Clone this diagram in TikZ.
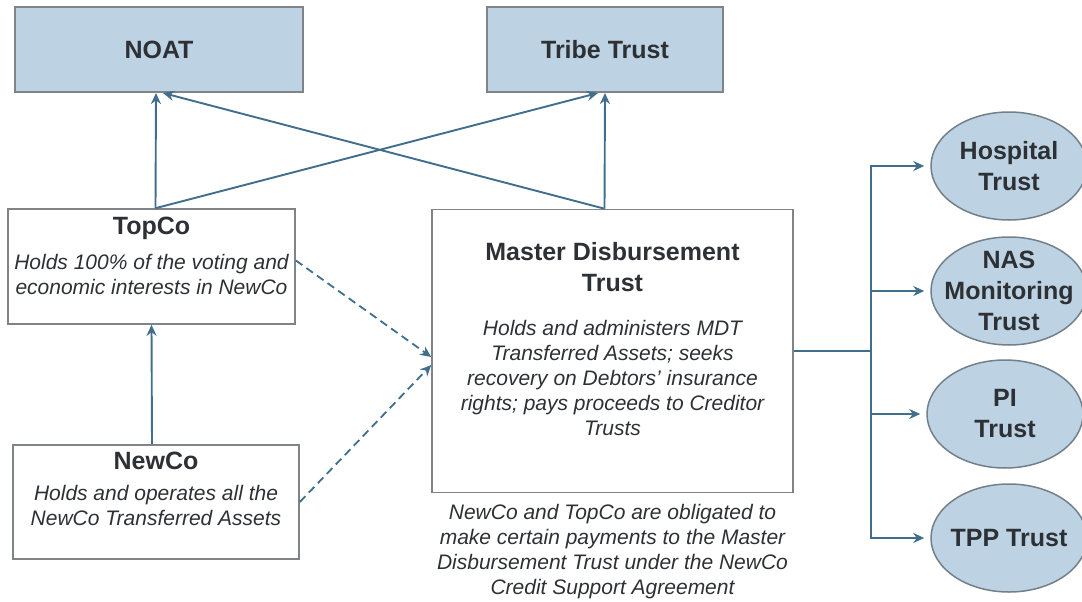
\documentclass[tikz,border=0pt]{standalone}
\usepackage{fontspec}
\setmainfont{Liberation Sans}
\usetikzlibrary{positioning,arrows.meta,shapes.geometric}

\definecolor{trustfill}{RGB}{189,211,227}
\definecolor{flow}{RGB}{64,110,140}
\definecolor{frame}{RGB}{128,132,136}
\definecolor{ink}{RGB}{45,48,52}

\begin{document}
\begin{tikzpicture}[
  x=1pt, y=-1pt,
  >={Stealth[length=11pt,width=10pt]},
  node distance=8pt,
  trust/.style={
    rectangle, draw=frame, fill=trustfill, line width=2pt,
    text=ink, font=\fontsize{25}{30}\selectfont\bfseries
  },
  entity/.style={rectangle, draw=frame, line width=1.6pt},
  heading/.style={align=center, inner sep=0pt, text=ink,
    font=\fontsize{25}{31}\selectfont\bfseries},
  note/.style={align=center, inner sep=0pt, text=ink,
    font=\fontsize{21}{25}\selectfont\itshape},
  ovaltext/.style={align=center, inner sep=0pt, text=ink,
    font=\fontsize{25}{31}\selectfont\bfseries},
  creditor/.style={ellipse, draw=frame!80!flow, fill=trustfill, line width=1.5pt,
    minimum width=156pt, minimum height=108pt, inner sep=0pt},
  arrow/.style={->, draw=flow, line width=1.9pt},
  owes/.style={->, draw=flow, line width=1.8pt, dash pattern=on 8pt off 5pt}
]
\useasboundingbox (0,0) rectangle (1082,602);

% top trusts
\node (noat) [trust, minimum width=288pt, minimum height=85pt] at (159,49.5) {NOAT};
\node (tribe) [trust, minimum width=236pt, minimum height=85pt] at (605,49.5) {Tribe Trust};

% companies
\node (topco) [entity, minimum width=287pt, minimum height=115pt] at (151.5,266.5) {};
\node (topcohead) [heading, below=9pt of topco.north] {TopCo};
\node (topconote) [note, below=14pt of topcohead]
  {Holds 100\% of the voting and\\economic interests in NewCo};

\node (newco) [entity, minimum width=286pt, minimum height=114pt] at (156,502) {};
\node (newcohead) [heading, below=8pt of newco.north] {NewCo};
\node (newconote) [note, below=15pt of newcohead]
  {Holds and operates all the\\NewCo Transferred Assets};

% master trust
\node (mdt) [entity, minimum width=361pt, minimum height=283pt] at (612.5,351) {};
\node (mdthead) [heading, below=33pt of mdt.north] {Master Disbursement\\Trust};
\node (mdtnote) [note, below=29pt of mdthead]
  {Holds and administers MDT\\Transferred Assets; seeks\\recovery on Debtors' insurance\\rights; pays proceeds to Creditor\\Trusts};
\node (support) [note, below=11pt of mdt]
  {NewCo and TopCo are obligated to\\make certain payments to the Master\\Disbursement Trust under the NewCo\\Credit Support Agreement};

% creditor trusts
\node (hospital) [creditor, label={[ovaltext]center:Hospital\\Trust}] at (1009,166) {};
\node (nas) [creditor, label={[ovaltext]center:NAS\\Monitoring\\Trust}] at (1009,291) {};
\node (pi) [creditor, label={[ovaltext]center:PI\\Trust}] at (1005,414) {};
\node (tpp) [creditor, label={[ovaltext]center:TPP Trust}] at (1009,538) {};

% ownership arrows
\draw[arrow] ([xshift=4pt]topco.north) -- ([xshift=-3pt]noat.south);
\draw[arrow] ([xshift=4pt]topco.north) -- ([xshift=-7pt]tribe.south);
\draw[arrow] ([xshift=-8pt]mdt.north) -- ([xshift=4pt]noat.south);
\draw[arrow] ([xshift=-8pt]mdt.north) -- (tribe.south);
\draw[arrow] ([xshift=-4pt]newco.north) -- (topco.south);

% payment obligations
\draw[owes] ([yshift=6pt]topco.east) -- ([yshift=-6pt]mdt.west);
\draw[owes] (newco.east) -- ([yshift=-14pt]mdt.west);

% distributions
\coordinate (fork) at ([xshift=77pt]mdt.east);
\draw[arrow] (mdt.east) -- (fork) |- ([xshift=-6pt]hospital.west);
\foreach \t in {nas,pi,tpp}
  \draw[arrow] (fork) |- ([xshift=-6pt]\t.west);
\end{tikzpicture}
\end{document}
